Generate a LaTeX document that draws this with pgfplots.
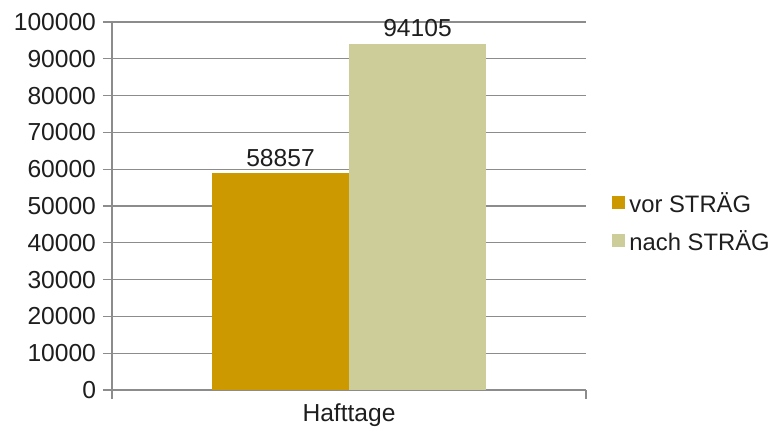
\documentclass[border=0pt]{standalone}
\usepackage{pgfplots}
\pgfplotsset{compat=1.18}
\usepackage{fontspec}
\setmainfont{Liberation Sans}
\definecolor{vor}{HTML}{CC9A00}
\definecolor{nach}{HTML}{CDCD9A}
\definecolor{gridc}{HTML}{8C8C8C}
\definecolor{txt}{HTML}{1E1E1E}
\begin{document}
\begin{tikzpicture}
\begin{axis}[
  name=ax,
  at={(0,0)}, anchor=south west,
  scale only axis,
  width=237pt, height=184pt,
  xmin=-0.5, xmax=0.5,
  ymin=0, ymax=100000,
  ytick={0,10000,...,100000},
  scaled y ticks=false,
  yticklabel style={/pgf/number format/.cd,fixed,1000 sep={},assume math mode=true},
  axis x line=bottom, axis y line=left,
  axis line style={-, draw=gridc, line width=0.6pt},
  tick style={draw=gridc, line width=0.6pt},
  tick align=outside,
  major tick length=4.5pt,
  xtick={-0.5,0.5}, xticklabels={},
  extra x ticks={0}, extra x tick labels={Hafttage},
  extra x tick style={tick style={draw=none}, xticklabel style={yshift=1pt}},
  ymajorgrids,
  grid style={draw=gridc, line width=0.6pt},
  ybar, bar width=0.289,
  every axis plot/.append style={draw=none},
  nodes near coords,
  nodes near coords style={font=\fontsize{12.3}{14}\selectfont, color=txt, /pgf/number format/.cd,fixed,1000 sep={},assume math mode=true},
  tick label style={font=\fontsize{12.3}{14}\selectfont, color=txt},
  legend style={at={(axis description cs:1.055,0.454)}, anchor=west, draw=none, fill=none, inner sep=0pt,
    font=\fontsize{11.9}{14}\selectfont, text=txt, row sep=3.2pt, nodes={inner xsep=2pt}},
  legend cell align=left,
  legend image code/.code={\fill[#1] (0pt,-2.5pt) rectangle (6.5pt,4pt);},
]
\addplot[fill=vor, bar shift=0pt] coordinates {(-0.1445,58857)};
\addplot[fill=nach, bar shift=0pt] coordinates {(0.1445,94105)};
\legend{vor STRÄG, nach STRÄG}
\end{axis}
\pgfresetboundingbox
\path[use as bounding box] ([shift={(-56pt,-22.5pt)}]ax.south west) rectangle ([shift={(94.5pt,11pt)}]ax.north east);
\end{tikzpicture}
\end{document}
